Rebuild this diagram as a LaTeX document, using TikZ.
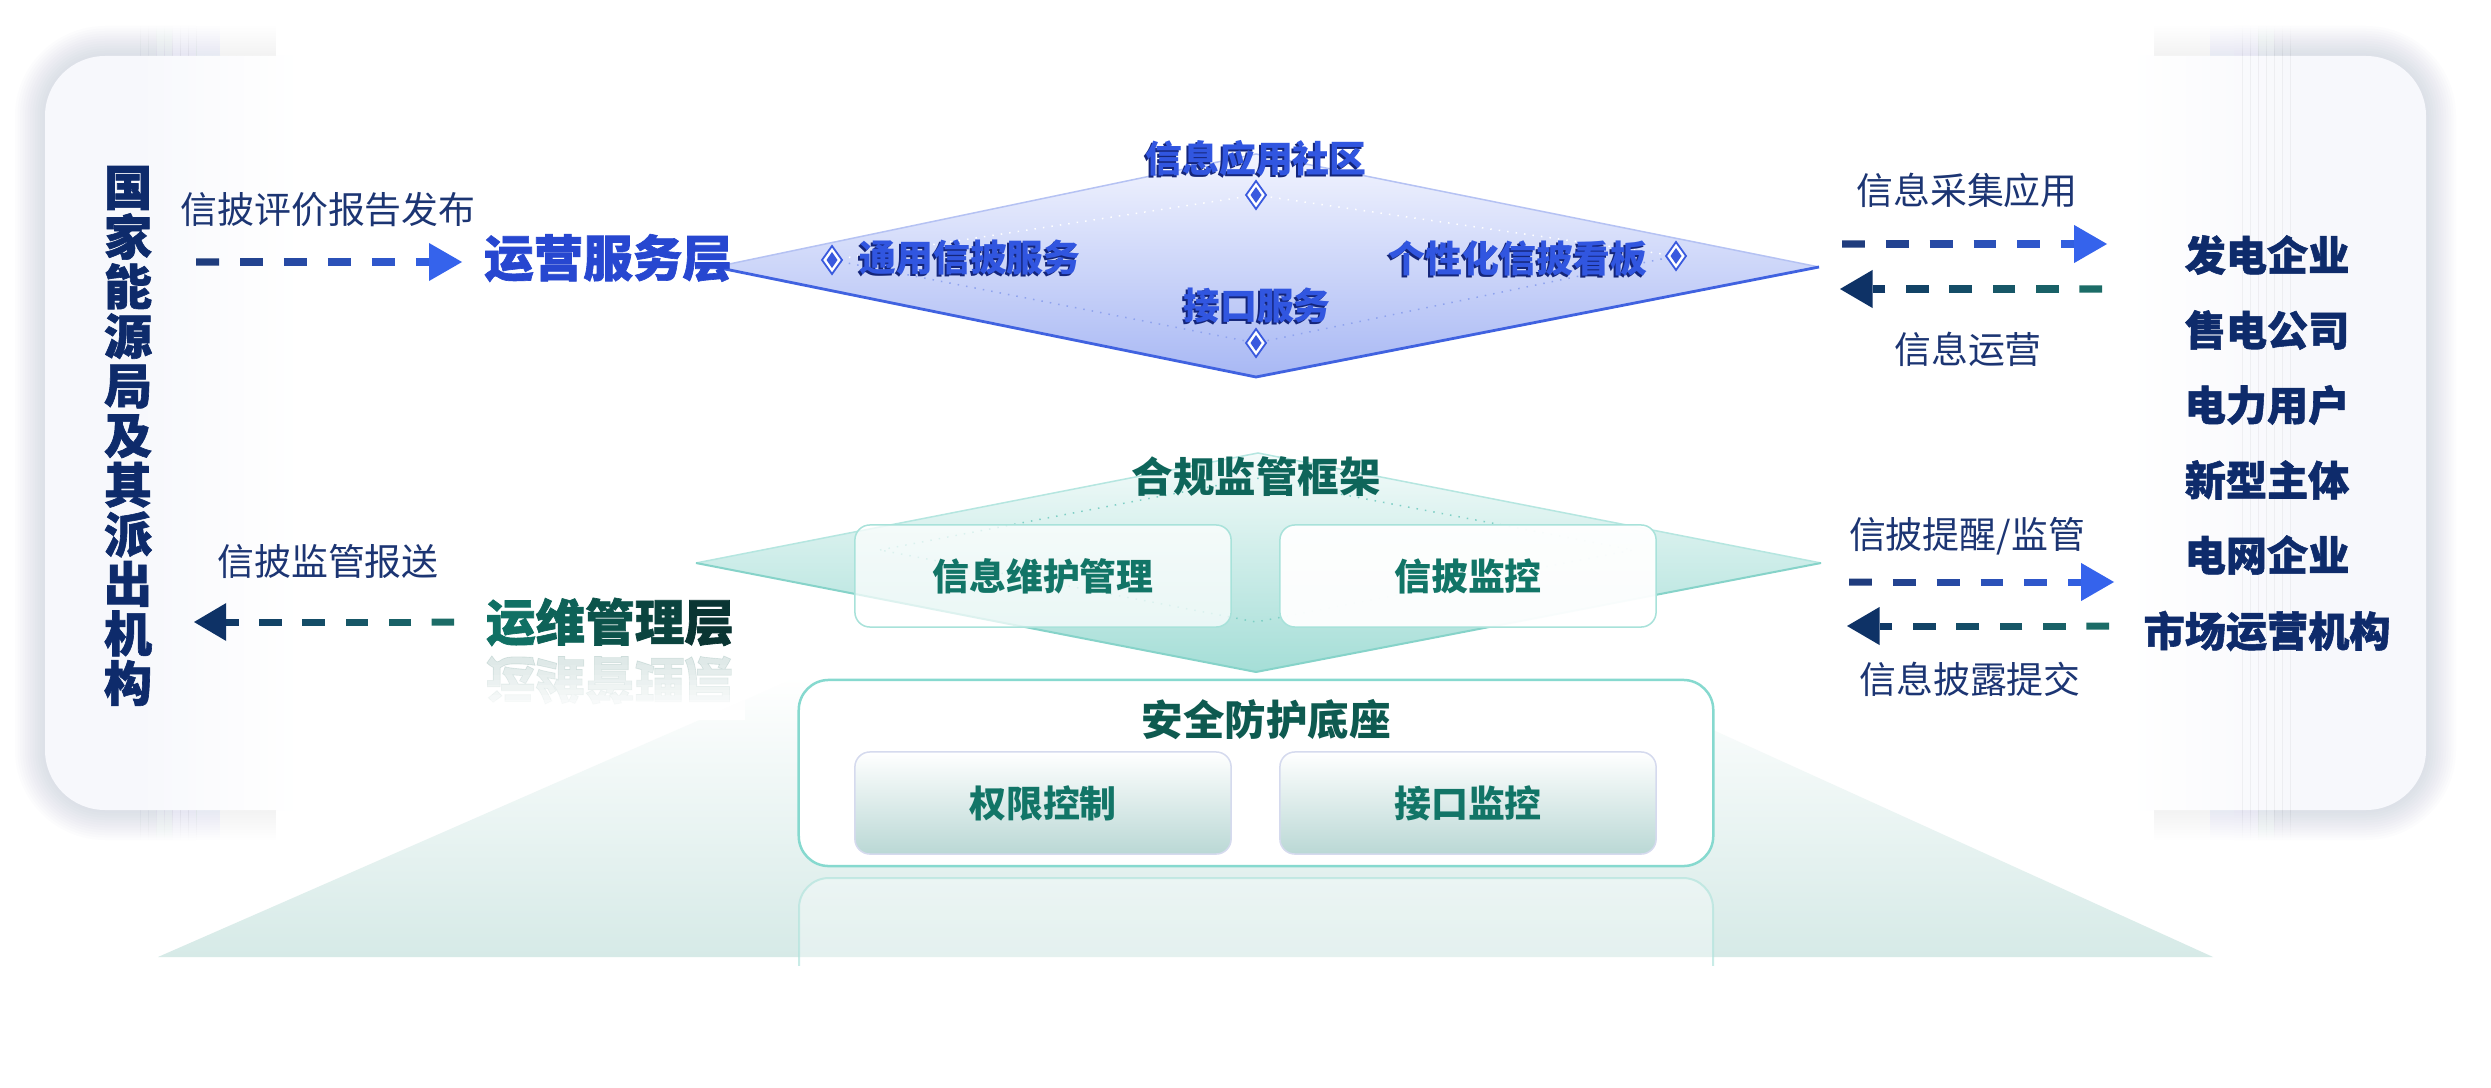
\documentclass[tikz,border=0pt]{standalone}
\usepackage{fontspec}
\setmainfont{Noto Sans CJK SC}
\newfontfamily\heavyfont{Noto Sans CJK SC}[BoldFeatures={FakeBold=1.3}]
\usetikzlibrary{calc}
\definecolor{navy}{HTML}{0E2B6B}
\definecolor{labc}{HTML}{1C3573}
\definecolor{layblue}{HTML}{2747D0}
\definecolor{layteal}{HTML}{0E5A50}
\definecolor{mgA}{HTML}{107064}
\definecolor{mgB}{HTML}{0E6258}
\definecolor{mgC}{HTML}{0C534B}
\definecolor{mgD}{HTML}{0B443F}
\definecolor{mgE}{HTML}{0A3533}
\definecolor{dblue}{HTML}{3156E0}
\definecolor{dshadow}{HTML}{14257A}
\definecolor{mkc}{HTML}{3A5ADE}
\definecolor{tealt}{HTML}{127567}
\definecolor{tealttl}{HTML}{0E655A}
\definecolor{tealbd}{HTML}{A8E2DA}
\definecolor{gboxbd}{HTML}{D5DAEE}
\definecolor{gboxbot}{HTML}{BAD8D5}
\definecolor{basebd}{HTML}{86D9CF}
\definecolor{shadowc}{HTML}{8C98C0}
\definecolor{cardc}{HTML}{F7F8FC}
\definecolor{floorc}{HTML}{D6EAE7}
\definecolor{bdtop}{HTML}{F2F4FE}
\definecolor{bdbot}{HTML}{A8B8F4}
\definecolor{bedgeA}{HTML}{B5C2F3}
\definecolor{bedgeB}{HTML}{4062E0}
\definecolor{bdot}{HTML}{8FA3EE}
\definecolor{tdtop}{HTML}{F4FBFA}
\definecolor{tdbot}{HTML}{A5DED7}
\definecolor{tedgeA}{HTML}{B5E6E0}
\definecolor{tedgeB}{HTML}{86D3C9}
\definecolor{tdot}{HTML}{7FCFC5}
\definecolor{arrnavy}{HTML}{1E3A78}
\definecolor{arrblue}{HTML}{3563EC}
\definecolor{arrteal}{HTML}{1C6E67}
\definecolor{arrnavyB}{HTML}{0E3266}
\definecolor{refc}{HTML}{B3E4DD}

\tikzset{
  lab/.style={font=\fontsize{10.5}{12}\selectfont, text=labc, inner sep=0pt},
  vtitle/.style={font=\heavyfont\fontsize{13.7}{14.1}\selectfont\bfseries, text=navy, align=center, inner sep=0pt},
  layer/.style={font=\heavyfont\fontsize{14.1}{16}\selectfont\bfseries, inner sep=0pt},
  dlab/.style={font=\fontsize{10.5}{12}\selectfont\bfseries, text=dblue, inner sep=0pt},
  dlabsh/.style={dlab, text=dshadow},
  ttl/.style={font=\fontsize{11.8}{13}\selectfont\bfseries, inner sep=0pt},
  org/.style={font=\heavyfont\fontsize{11.7}{13}\selectfont\bfseries, text=navy, inner sep=0pt},
  wbox/.style={rounded corners=0.15cm, minimum width=3.76cm, minimum height=1.02cm,
    draw=tealbd, line width=0.015cm, font=\fontsize{10.5}{12}\selectfont\bfseries, text=tealt},
  gbox/.style={rounded corners=0.15cm, minimum width=3.76cm, minimum height=1.02cm,
    draw=gboxbd, line width=0.015cm, top color=white, bottom color=gboxbot,
    font=\fontsize{10.5}{12}\selectfont\bfseries, text=tealt},
  mk/.pic={
    \path[fill=white, draw=mkc, line width=0.018cm] (0,-14) -- (10,0) -- (0,14) -- (-10,0) -- cycle;
    \fill[mkc] (0,-8) -- (5.5,0) -- (0,8) -- (-5.5,0) -- cycle;
  }
}

\newcommand\gdarrow[4]{%
  \coordinate (gdH) at ($(#1)!0.876!(#2)$);
  \foreach \k in {0,...,5}{%
    \pgfmathsetmacro\fa{\k*0.1654}%
    \pgfmathsetmacro\fb{min(\k*0.1654+0.0865,0.876)}%
    \pgfmathtruncatemacro\pc{96-\k*17}%
    \draw[line width=0.07cm, #3!\pc!#4] ($(#1)!\fa!(#2)$) -- ($(#1)!\fb!(#2)$);
  }
  \fill[#4] (#2) -- ($(gdH)!0.19cm!90:(#2)$) -- ($(gdH)!0.19cm!-90:(#2)$) -- cycle;
}

\begin{document}
\begin{tikzpicture}[x=0.01cm,y=-0.01cm]
\useasboundingbox[fill=white] (0,0) rectangle (2491,1088);

% ---- side cards: shadow + faint card fill, faded out in vertical strips
\foreach \j in {0,...,19}{
  \pgfmathsetmacro\xa{ifthenelse(\j==0,0,132+\j*8)}
  \pgfmathsetmacro\xb{140+\j*8}
  \pgfmathsetmacro\op{0.025*(1-\j/20)^1.3}
  \pgfmathtruncatemacro\cmix{100-\j*5}
  \begin{scope}
    \clip (\xa,0) rectangle (\xb,1088);
    \foreach \i in {1,...,12}{
      \pgfmathsetmacro\rr{0.6+0.025*\i}
      \fill[shadowc, opacity=\op, rounded corners=\rr cm]
        (45-\i*2.5, 56-\i*2.5) rectangle (420+\i*2.5, 810+\i*2.5);
    }
    \fill[cardc!\cmix!white, rounded corners=0.6cm] (45,56) rectangle (420,810);
  \end{scope}
}
\foreach \j in {0,...,19}{
  \pgfmathsetmacro\xa{2290-\j*8}
  \pgfmathsetmacro\xb{ifthenelse(\j==0,2491,2298-\j*8)}
  \pgfmathsetmacro\op{0.025*(1-\j/20)^1.3}
  \pgfmathtruncatemacro\cmix{100-\j*5}
  \begin{scope}
    \clip (\xa,0) rectangle (\xb,1088);
    \foreach \i in {1,...,12}{
      \pgfmathsetmacro\rr{0.6+0.025*\i}
      \fill[shadowc, opacity=\op, rounded corners=\rr cm]
        (2060-\i*2.5, 56-\i*2.5) rectangle (2426+\i*2.5, 810+\i*2.5);
    }
    \fill[cardc!\cmix!white, rounded corners=0.6cm] (2060,56) rectangle (2426,810);
  \end{scope}
}

% ---- floor
\shade[top color=white, bottom color=floorc] (158,957) -- (800,676) -- (1713,730) -- (2213,957) -- cycle;
\begin{scope}
  \clip (780,868) rectangle (1735,965);
  \fill[white, opacity=0.35, rounded corners=0.3cm] (799,878) rectangle (1713,1060);
  \draw[refc, line width=0.02cm, opacity=0.7, rounded corners=0.3cm] (799,878) rectangle (1713,1060);
\end{scope}

% ---- blue diamond (operation service)
\coordinate (bL) at (715,267);
\coordinate (bT) at (1256,154);
\coordinate (bR) at (1819,267);
\coordinate (bB) at (1256,377);
\shade[top color=bdtop, bottom color=bdbot] (bL) -- (bT) -- (bR) -- (bB) -- cycle;
\draw[bedgeA, line width=0.015cm] (bL) -- (bT) -- (bR);
\draw[bedgeB, line width=0.028cm, line join=round] (bL) -- (bB) -- (bR);
\coordinate (biL) at (832,260);
\coordinate (biT) at (1256,195);
\coordinate (biR) at (1676,256);
\coordinate (biB) at (1256,343);
\draw[white, line width=0.015cm, dotted] (biL) -- (biT) -- (biR);
\draw[bdot, line width=0.015cm, dotted] (biL) -- (biB) -- (biR);
\pic (mkT) at (biT) {mk};
\pic (mkL) at (biL) {mk};
\pic (mkR) at (biR) {mk};
\pic (mkB) at (biB) {mk};

\node[dlabsh] (c1s) at (1254,160) {信息应用社区};
\node[dlab] (c1) at (1256,158) {信息应用社区};
\node[dlabsh] (c2s) at (968,260) {通用信披服务};
\node[dlab] (c2) at (970,258) {通用信披服务};
\node[dlabsh] (c3s) at (1516,260) {个性化信披看板};
\node[dlab] (c3) at (1518,258) {个性化信披看板};
\node[dlabsh] (c4s) at (1255,307) {接口服务};
\node[dlab] (c4) at (1257,305) {接口服务};

% ---- teal diamond (compliance)
\coordinate (tL) at (696,563);
\coordinate (tT) at (1258,453);
\coordinate (tR) at (1821,563);
\coordinate (tB) at (1256,672);
\shade[top color=tdtop, bottom color=tdbot] (tL) -- (tT) -- (tR) -- (tB) -- cycle;
\draw[tedgeA, line width=0.015cm] (tL) -- (tT) -- (tR);
\draw[tedgeB, line width=0.02cm, line join=round] (tL) -- (tB) -- (tR);
\coordinate (tiL) at (880,550);
\coordinate (tiT) at (1256,478);
\coordinate (tiR) at (1633,550);
\coordinate (tiB) at (1256,622);
\draw[tdot, line width=0.015cm, dotted] (tiL) -- (tiT) -- (tiR) -- (tiB) -- cycle;

\node[ttl, text=tealttl] (comp) at (1256,477) {合规监管框架};
\node[wbox, fill=white, fill opacity=0.72, text opacity=1] (w1) at (1043,576) {信息维护管理};
\node[wbox, fill=white, fill opacity=0.95, text opacity=1] (w2) at (1468,576) {信披监控};

% ---- base
\node[draw=basebd, line width=0.025cm, fill=white, rounded corners=0.3cm,
      minimum width=9.14cm, minimum height=1.86cm] (base) at (1256,773) {};
\node[ttl, text=layteal] (baseT) at (1266,720) {安全防护底座};
\node[gbox] (g1) at (1043,803) {权限控制};
\node[gbox] (g2) at (1468,803) {接口监控};

% ---- left side
\node[vtitle] (gov) at (128,436) {国\\家\\能\\源\\局\\及\\其\\派\\出\\机\\构};
\node[lab] (l1) at (328,210) {信披评价报告发布};
\coordinate (a1s) at (196,262);
\coordinate (a1e) at (462,262);
\gdarrow{a1s}{a1e}{arrnavy}{arrblue}
\node[layer, text=layblue] (ops) at (608,258) {运营服务层};

\node[lab] (l2) at (328,561) {信披监管报送};
\coordinate (a2s) at (454,622);
\coordinate (a2e) at (194,622);
\gdarrow{a2s}{a2e}{arrteal}{arrnavyB}
\node[layer] (mgmt) at (610,622) {\color{mgA}运\color{mgB}维\color{mgC}管\color{mgD}理\color{mgE}层};
\begin{scope}[shift={(610,680)}, yscale=-1]
  \node[layer, text=layteal, opacity=0.13, transform shape] (mgmtR) at (0,0) {运维管理层};
\end{scope}
\foreach \k in {1,...,9}{
  \fill[white, opacity=\k/10] (470,{660+\k*5}) rectangle (745,{665+\k*5});
}
\fill[white] (470,710) rectangle (745,720);

% ---- right side
\node[lab] (r1) at (1967,190) {信息采集应用};
\coordinate (a3s) at (1842,244);
\coordinate (a3e) at (2107,244);
\gdarrow{a3s}{a3e}{arrnavy}{arrblue}
\coordinate (a4s) at (2102,289);
\coordinate (a4e) at (1840,289);
\gdarrow{a4s}{a4e}{arrteal}{arrnavyB}
\node[lab] (r2) at (1968,349) {信息运营};

\node[lab] (r3) at (1967,536) {信披提醒/监管};
\coordinate (a5s) at (1849,582);
\coordinate (a5e) at (2114,582);
\gdarrow{a5s}{a5e}{arrnavy}{arrblue}
\coordinate (a6s) at (2109,626);
\coordinate (a6e) at (1847,626);
\gdarrow{a6s}{a6e}{arrteal}{arrnavyB}
\node[lab] (r4) at (1970,679) {信息披露提交};

\node[org] (o1) at (2267,255) {发电企业};
\node[org] (o2) at (2267,330) {售电公司};
\node[org] (o3) at (2267,405) {电力用户};
\node[org] (o4) at (2267,480) {新型主体};
\node[org] (o5) at (2267,555) {电网企业};
\node[org] (o6) at (2267,631) {市场运营机构};
\end{tikzpicture}
\end{document}
